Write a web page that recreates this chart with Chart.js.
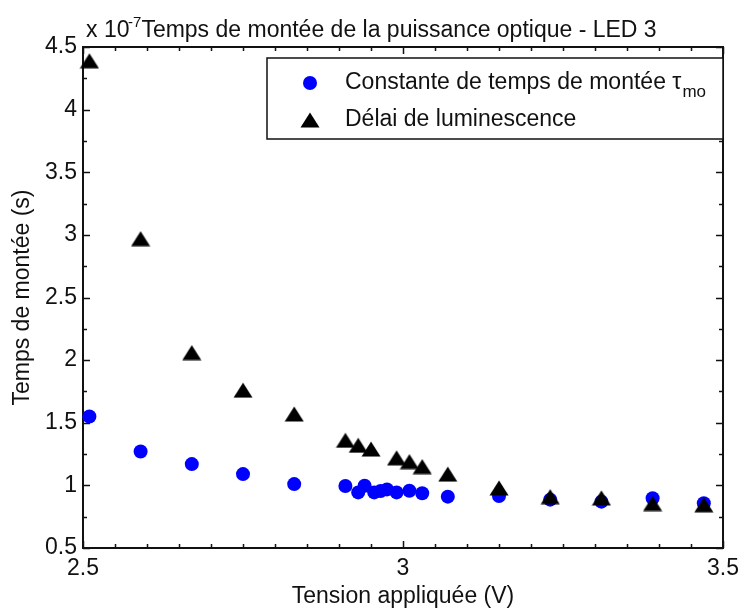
<!DOCTYPE html>
<html>
<head>
<meta charset="utf-8">
<script src="https://cdn.jsdelivr.net/npm/chart.js@4.4.0/dist/chart.umd.min.js"></script>
<style>
  html, body { margin: 0; padding: 0; background: #fff; }
  #wrap { width: 746px; height: 612px; }
</style>
</head>
<body>
<div id="wrap"><canvas id="riseChart" width="746" height="612"></canvas></div>
<script>
// temps en unités de 1e-7 s
const tensionTau = [2.51, 2.59, 2.67, 2.75, 2.83, 2.91, 2.93, 2.94, 2.955, 2.965, 2.975, 2.99, 3.01, 3.03, 3.07, 3.15, 3.23, 3.31, 3.39, 3.47];
const tauMo = [1.55, 1.27, 1.17, 1.09, 1.01, 0.995, 0.944, 0.997, 0.944, 0.955, 0.968, 0.944, 0.957, 0.937, 0.91, 0.915, 0.886, 0.87, 0.897, 0.857];

const tensionDelai = [2.51, 2.59, 2.67, 2.75, 2.83, 2.91, 2.93, 2.95, 2.99, 3.01, 3.03, 3.07, 3.15, 3.23, 3.31, 3.39, 3.47];
const delaiLum = [4.39, 2.97, 2.06, 1.76, 1.57, 1.36, 1.32, 1.29, 1.22, 1.19, 1.15, 1.09, 0.98, 0.91, 0.90, 0.855, 0.845];

const xTicks = [2.5, 3, 3.5];
const yTicks = [0.5, 1, 1.5, 2, 2.5, 3, 3.5, 4, 4.5];

const FONT = "'Liberation Sans', Arial, Helvetica, sans-serif";
const INK = '#111';

// triangle plein façon marqueur '^'
function makeTriangle(w, h) {
  const c = document.createElement('canvas');
  c.width = w; c.height = h;
  const g = c.getContext('2d');
  g.fillStyle = '#000';
  g.beginPath();
  g.moveTo(w / 2, 0.5);
  g.lineTo(w - 0.5, h - 0.5);
  g.lineTo(0.5, h - 0.5);
  g.closePath();
  g.fill();
  return c;
}
const triangle = makeTriangle(20, 16);

// cadre + graduations vers l'intérieur sur les quatre côtés
const boxAxes = {
  id: 'boxAxes',
  beforeDatasetsDraw(chart) {
    const {ctx, chartArea: a, scales: {x, y}} = chart;
    ctx.save();
    ctx.strokeStyle = INK;
    ctx.lineWidth = 1.5;
    const tick = (px, len, vertical) => {
      ctx.beginPath();
      if (vertical) {
        ctx.moveTo(px, a.bottom); ctx.lineTo(px, a.bottom - len);
        ctx.moveTo(px, a.top); ctx.lineTo(px, a.top + len);
      } else {
        ctx.moveTo(a.left, px); ctx.lineTo(a.left + len, px);
        ctx.moveTo(a.right, px); ctx.lineTo(a.right - len, px);
      }
      ctx.stroke();
    };
    for (let i = 0; i <= 20; i++) {
      const v = 2.5 + i * 0.05;
      const major = i % 10 === 0;
      tick(Math.round(x.getPixelForValue(v)) + 0.5, major ? 7 : 4, true);
    }
    for (let i = 0; i <= 16; i++) {
      const v = 0.5 + i * 0.25;
      const major = i % 2 === 0;
      tick(Math.round(y.getPixelForValue(v)) + 0.5, major ? 7 : 4, false);
    }
    ctx.lineWidth = 2;
    ctx.strokeRect(a.left, a.top, a.right - a.left, a.bottom - a.top);
    ctx.restore();
  },
  afterDraw(chart) {
    const {ctx, chartArea: a} = chart;
    ctx.save();
    ctx.fillStyle = INK;
    ctx.textBaseline = 'alphabetic';

    // facteur d'échelle et titre
    ctx.font = '23px ' + FONT;
    ctx.textAlign = 'left';
    ctx.fillText('x 10', 86, 37);
    ctx.font = '15px ' + FONT;
    ctx.fillText('-7', 128, 27);
    ctx.font = '23px ' + FONT;
    ctx.textAlign = 'center';
    ctx.fillText('Temps de montée de la puissance optique - LED 3', (a.left + a.right) / 2 - 4, 37);

    // légende
    const lx = 267, ly = 58, lw = 456, lh = 81;
    ctx.fillStyle = '#fff';
    ctx.fillRect(lx, ly, lw, lh);
    ctx.strokeStyle = INK;
    ctx.lineWidth = 1.5;
    ctx.strokeRect(lx, ly, lw, lh);

    const mx = 310, row1 = 83, row2 = 120;
    ctx.fillStyle = '#0000ff';
    ctx.beginPath();
    ctx.arc(mx, row1, 7, 0, Math.PI * 2);
    ctx.fill();
    ctx.drawImage(triangle, mx - triangle.width / 2, row2 - triangle.height / 2);

    ctx.fillStyle = INK;
    ctx.textAlign = 'left';
    ctx.textBaseline = 'middle';
    ctx.font = '23px ' + FONT;
    const t1 = 'Constante de temps de montée \u03c4';
    ctx.fillText(t1, 345, row1);
    const w1 = ctx.measureText(t1).width;
    ctx.font = '17px ' + FONT;
    ctx.fillText('mo', 345 + w1 + 1, row1 + 9);
    ctx.font = '23px ' + FONT;
    ctx.fillText('Délai de luminescence', 345, row2);
    ctx.restore();
  }
};

const tickFont = { family: FONT, size: 23 };

new Chart(document.getElementById('riseChart'), {
  type: 'scatter',
  data: {
    datasets: [
      {
        label: 'Délai de luminescence',
        data: tensionDelai.map((v, i) => ({ x: v, y: delaiLum[i] })),
        pointStyle: triangle,
        pointRadius: 10,
        backgroundColor: '#000',
        borderColor: '#000',
        clip: false,
        order: 1
      },
      {
        label: 'Constante de temps de montée \u03c4mo',
        data: tensionTau.map((v, i) => ({ x: v, y: tauMo[i] })),
        pointStyle: 'circle',
        pointRadius: 7,
        borderWidth: 0,
        backgroundColor: '#0000ff',
        borderColor: '#0000ff',
        clip: false,
        order: 2
      }
    ]
  },
  options: {
    responsive: false,
    animation: false,
    devicePixelRatio: 1,
    layout: { padding: { left: 0, top: 47, right: 16, bottom: 0 } },
    plugins: {
      legend: { display: false },
      tooltip: { enabled: false },
      title: { display: false }
    },
    scales: {
      x: {
        type: 'linear',
        min: 2.5,
        max: 3.5,
        grid: { display: false, drawTicks: false },
        border: { display: false },
        afterBuildTicks: s => { s.ticks = xTicks.map(v => ({ value: v })); },
        afterFit: s => { s.height = 64; },
        ticks: { font: tickFont, color: INK, padding: 7, maxRotation: 0, autoSkip: false, callback: v => String(v) },
        title: { display: true, text: 'Tension appliquée (V)', font: tickFont, color: INK, padding: { top: 0, bottom: 2 } }
      },
      y: {
        type: 'linear',
        min: 0.5,
        max: 4.5,
        grid: { display: false, drawTicks: false },
        border: { display: false },
        afterBuildTicks: s => { s.ticks = yTicks.map(v => ({ value: v })); },
        afterFit: s => { s.width = 83; },
        ticks: { font: tickFont, color: INK, padding: 6, autoSkip: false, callback: v => String(v) },
        title: { display: true, text: 'Temps de montée (s)', font: tickFont, color: INK, padding: { top: 9, bottom: 0 } }
      }
    }
  },
  plugins: [boxAxes]
});
</script>
</body>
</html>
